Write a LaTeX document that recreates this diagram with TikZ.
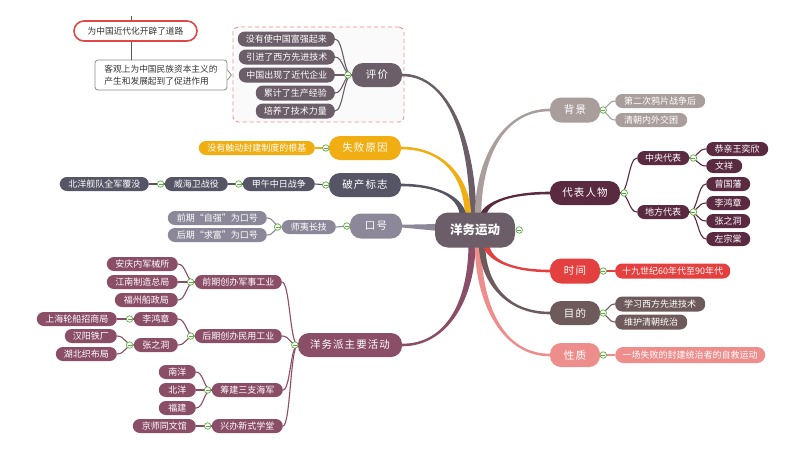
\documentclass[tikz,border=0pt]{standalone}
\usepackage{fontspec}
\setmainfont{Noto Sans CJK SC}
\usetikzlibrary{calc}
\pgfdeclarelayer{bgA}
\pgfdeclarelayer{bgB}
\pgfsetlayers{bgA,bgB,main}
\definecolor{cenC}{HTML}{6B5E68}
\definecolor{pjC}{HTML}{6B5E68}
\definecolor{sbC}{HTML}{F0AE12}
\definecolor{pcC}{HTML}{555566}
\definecolor{khC}{HTML}{8C889A}
\definecolor{hdC}{HTML}{8A4E66}
\definecolor{bjC}{HTML}{AA9E9C}
\definecolor{dbC}{HTML}{5A2A40}
\definecolor{sjC}{HTML}{E4403F}
\definecolor{mdC}{HTML}{6E5A5A}
\definecolor{xzC}{HTML}{EE8E8C}
\definecolor{colG}{HTML}{5BAA3C}
\definecolor{redB}{HTML}{E04848}
\definecolor{dashC}{HTML}{E89090}
\definecolor{txtC}{HTML}{333333}
\definecolor{calC}{HTML}{8C8C8C}
\tikzset{
  mmsub/.style={rounded corners=7pt, minimum height=14pt, inner xsep=5pt, inner ysep=0pt, text=white, font=\fontsize{9}{9.5}\selectfont, fill=#1},
  mmmain/.style={rounded corners=11pt, minimum height=24pt, inner xsep=6pt, inner ysep=0pt, text=white, font=\fontsize{10.5}{11}\selectfont\addfontfeature{LetterSpace=10}, fill=#1},
  mmcol/.style={circle, draw=colG, fill=white, line width=0.7pt, minimum size=6.5pt, inner sep=0pt,
    path picture={\draw[colG, line width=0.7pt] ([xshift=-2pt]path picture bounding box.center) -- ([xshift=2pt]path picture bounding box.center);}},
}
\newcommand\mmlink[3]{\draw[draw=#1, line width=1.1pt] let \p1=(#2), \p2=(#3) in (\p1) .. controls ({0.5*\x1+0.5*\x2},\y1) and ({0.5*\x1+0.5*\x2},\y2) .. (\p2);}
\newcommand\mmtaper[5]{\fill[#1] let \p1=(#2), \p2=(#3), \n1={sign(\x2-\x1)*sign(\y2-\y1)} in
  ({\x1-#4pt},\y1) .. controls ({\x1-#4pt},{\y1+0.55*(\y2-\y1)}) and ({\x1+0.35*(\x2-\x1)},{\y2+\n1*#5pt}) .. (\x2,{\y2+\n1*#5pt})
  -- (\x2,{\y2-\n1*#5pt}) .. controls ({\x1+0.35*(\x2-\x1)},{\y2-\n1*#5pt}) and ({\x1+#4pt},{\y1+0.55*(\y2-\y1)}) .. ({\x1+#4pt},\y1) -- cycle;}
\begin{document}
\begin{tikzpicture}[x=1pt,y=-1pt]
\begin{pgfonlayer}{bgA}
\fill[white] (0,0) rectangle (800,456);
\node[draw=dashC, dash pattern=on 4pt off 3pt, line width=0.9pt, fill=black!2, rounded corners=5pt, minimum width=171pt, minimum height=95pt, inner sep=0pt] (bd) at (318.5,74.5) {};
\end{pgfonlayer}
\useasboundingbox (0,0) rectangle (800,456);

% central
\node[mmmain=cenC, rounded corners=13pt, minimum width=80pt, minimum height=35pt, font=\fontsize{12.5}{13}\selectfont\bfseries] (c) at (475,230) {洋务运动};

% main left
\node[mmmain=pjC, minimum width=50pt] (pj) at (377,75) {评价};
\node[mmmain=sbC, minimum width=72pt] (sb) at (365,148) {失败原因};
\node[mmmain=pcC, minimum width=72pt] (pc) at (365,185) {破产标志};
\node[mmmain=khC, minimum width=52pt, minimum height=25pt] (kh) at (376,226) {口号};
\node[mmmain=hdC, minimum width=104pt] (hd) at (350,345) {洋务派主要活动};
% main right
\node[mmmain=bjC, minimum width=50pt, minimum height=25pt] (bj) at (575,110) {背景};
\node[mmmain=dbC, minimum width=70pt] (db) at (585,193) {代表人物};
\node[mmmain=sjC, minimum width=50pt, minimum height=25pt] (sj) at (575,271) {时间};
\node[mmmain=mdC, minimum width=50pt] (md) at (575,313) {目的};
\node[mmmain=xzC, minimum width=50pt] (xz) at (575,355) {性质};

% left subs
\node[mmsub=pjC, anchor=east, minimum width=97pt, minimum height=15pt] (pj1) at (335,39) {没有使中国富强起来};
\node[mmsub=pjC, anchor=east, minimum width=96pt, minimum height=15pt] (pj2) at (335,57) {引进了西方先进技术};
\node[mmsub=pjC, anchor=east, minimum width=96pt, minimum height=15pt] (pj3) at (335,75) {中国出现了近代企业};
\node[mmsub=pjC, anchor=east, minimum width=79pt, minimum height=15pt] (pj4) at (335,93) {累计了生产经验};
\node[mmsub=pjC, anchor=east, minimum width=79pt, minimum height=15pt] (pj5) at (335,111) {培养了技术力量};
\node[mmsub=sbC, anchor=east, minimum width=116pt] (sb1) at (315,148) {没有触动封建制度的根基};
\node[mmsub=pcC, anchor=east, minimum width=72pt] (pc1) at (315,184) {甲午中日战争};
\node[mmsub=pcC, anchor=east, minimum width=63pt] (pc2) at (228,184) {威海卫战役};
\node[mmsub=pcC, anchor=east, minimum width=89pt] (pc3) at (149,184) {北洋舰队全军覆没};
\node[mmsub=khC, anchor=east, minimum width=54pt] (kh1) at (336,227) {师夷长技};
\node[mmsub=khC, anchor=east, minimum width=99pt] (kh11) at (267,218) {前期“自强”为口号};
\node[mmsub=khC, anchor=east, minimum width=99pt] (kh12) at (267,235) {后期“求富”为口号};
\node[mmsub=hdC, anchor=east, minimum width=87pt] (hd1) at (282,282) {前期创办军事工业};
\node[mmsub=hdC, anchor=east, minimum width=71pt] (hd11) at (178,264) {安庆内军械所};
\node[mmsub=hdC, anchor=east, minimum width=71pt] (hd12) at (178,282) {江南制造总局};
\node[mmsub=hdC, anchor=east, minimum width=63pt] (hd13) at (178,300) {福州船政局};
\node[mmsub=hdC, anchor=east, minimum width=87pt] (hd2) at (282,336) {后期创办民用工业};
\node[mmsub=hdC, anchor=east, minimum width=44pt] (hd21) at (178,319) {李鸿章};
\node[mmsub=hdC, anchor=east, minimum width=80pt] (hd211) at (117,319) {上海轮船招商局};
\node[mmsub=hdC, anchor=east, minimum width=44pt] (hd22) at (178,345) {张之洞};
\node[mmsub=hdC, anchor=east, minimum width=52pt] (hd221) at (117,336) {汉阳铁厂};
\node[mmsub=hdC, anchor=east, minimum width=61pt] (hd222) at (117,354) {湖北织布局};
\node[mmsub=hdC, anchor=east, minimum width=71pt] (hd3) at (283,390) {筹建三支海军};
\node[mmsub=hdC, anchor=east, minimum width=37pt] (hd31) at (196,372) {南洋};
\node[mmsub=hdC, anchor=east, minimum width=37pt] (hd32) at (196,390) {北洋};
\node[mmsub=hdC, anchor=east, minimum width=37pt] (hd33) at (196,408) {福建};
\node[mmsub=hdC, anchor=east, minimum width=71pt] (hd4) at (283,426) {兴办新式学堂};
\node[mmsub=hdC, anchor=east, minimum width=63pt] (hd41) at (196,426) {京师同文馆};

% right subs
\node[mmsub=bjC, anchor=west, minimum width=90pt] (bj1) at (615,101) {第二次鸦片战争后};
\node[mmsub=bjC, anchor=west, minimum width=72pt] (bj2) at (615,120) {清朝内外交困};
\node[mmsub=dbC, anchor=west, minimum width=52pt] (db1) at (637,158) {中央代表};
\node[mmsub=dbC, anchor=west, minimum width=52pt] (db2) at (637,212) {地方代表};
\node[mmsub=dbC, anchor=west, minimum width=62pt] (db11) at (706,149) {恭亲王奕欣};
\node[mmsub=dbC, anchor=west, minimum width=36pt] (db12) at (706,166) {文祥};
\node[mmsub=dbC, anchor=west, minimum width=44pt] (db21) at (706,184) {曾国藩};
\node[mmsub=dbC, anchor=west, minimum width=44pt] (db22) at (706,203) {李鸿章};
\node[mmsub=dbC, anchor=west, minimum width=44pt] (db23) at (706,221) {张之洞};
\node[mmsub=dbC, anchor=west, minimum width=44pt] (db24) at (706,239) {左宗棠};
\node[mmsub=sjC, anchor=west, minimum width=115pt, minimum height=15pt] (sj1) at (615,271) {十九世纪60年代至90年代};
\node[mmsub=mdC, anchor=west, minimum width=90pt, minimum height=15pt] (md1) at (615,304) {学习西方先进技术};
\node[mmsub=mdC, anchor=west, minimum width=72pt, minimum height=15pt] (md2) at (615,322) {维护清朝统治};
\node[mmsub=xzC, anchor=west, minimum width=150pt, minimum height=16pt, rounded corners=8pt] (xz1) at (615,355) {一场失败的封建统治者的自救运动};

% callouts top-left
\node[draw=redB, line width=1.6pt, fill=white, rounded corners=10pt, minimum width=123pt, minimum height=20pt, inner sep=0pt, text=txtC, font=\fontsize{8.7}{9}\selectfont] (rb) at (135.5,31) {为中国近代化开辟了道路};
\node[draw=calC, line width=0.8pt, fill=white, rounded corners=3pt, minimum width=132pt, minimum height=30pt, inner xsep=9pt, inner ysep=0pt, align=left, text=txtC, font=\fontsize{8.7}{11.5}\selectfont] (cl) at (161,75) {客观上为中国民族资本主义的\\产生和发展起到了促进作用};
\fill[white] ($(cl.east)+(-0.6,-5)$) -- ($(cl.east)+(3.6,0)$) -- ($(cl.east)+(-0.6,5)$) -- cycle;
\draw[calC, line width=0.8pt, line join=round] ($(cl.east)+(0,-5)$) -- ($(cl.east)+(4,0)$) -- ($(cl.east)+(0,5)$);
\draw[black!65, line width=1.3pt] ([xshift=-4pt]rb.north) -- ++(0,-4);
\draw[black!65, line width=1.3pt] ([xshift=-4pt]rb.south) -- ([xshift=-4pt]rb.south |- cl.north);

\begin{pgfonlayer}{bgB}
% main branches
\mmtaper{pjC}{[xshift=-2pt,yshift=-5pt]c.north}{pj.east}{3.2}{1.3}
\mmtaper{sbC}{[xshift=-7pt,yshift=-5pt]c.north}{sb.east}{3.2}{1.3}
\mmtaper{pcC}{[xshift=-12pt,yshift=-5pt]c.north}{pc.east}{3.2}{1.3}
\mmtaper{bjC}{[xshift=3pt,yshift=-5pt]c.north}{bj.west}{3.2}{1.3}
\mmtaper{dbC}{[xshift=8pt,yshift=-5pt]c.north}{db.west}{3.2}{1.3}
\mmtaper{hdC}{[xshift=-3pt,yshift=5pt]c.south}{hd.east}{3.5}{1.3}
\mmtaper{xzC}{[xshift=3pt,yshift=5pt]c.south}{xz.west}{3.2}{1.3}
\mmtaper{mdC}{[xshift=7pt,yshift=5pt]c.south}{md.west}{3.2}{1.3}
\mmtaper{sjC}{[xshift=11pt,yshift=5pt]c.south}{sj.west}{3.2}{1.3}
\fill[khC] ($(c.west)+(4,-6)$) -- ($(kh.east)+(-3,-1.2)$) -- ($(kh.east)+(-3,1.2)$) -- ($(c.west)+(4,1)$) -- cycle;
% sub links
\mmlink{pjC}{pj.west}{pj1.east}
\mmlink{pjC}{pj.west}{pj2.east}
\mmlink{pjC}{pj.west}{pj3.east}
\mmlink{pjC}{pj.west}{pj4.east}
\mmlink{pjC}{pj.west}{pj5.east}
\mmlink{sbC}{sb.west}{sb1.east}
\mmlink{pcC}{pc.west}{pc1.east}
\mmlink{pcC}{pc1.west}{pc2.east}
\mmlink{pcC}{pc2.west}{pc3.east}
\mmlink{khC}{kh.west}{kh1.east}
\mmlink{khC}{kh1.west}{kh11.east}
\mmlink{khC}{kh1.west}{kh12.east}
\mmlink{hdC}{hd.west}{hd1.east}
\mmlink{hdC}{hd.west}{hd2.east}
\mmlink{hdC}{hd.west}{hd3.east}
\mmlink{hdC}{hd.west}{hd4.east}
\mmlink{hdC}{hd1.west}{hd11.east}
\mmlink{hdC}{hd1.west}{hd12.east}
\mmlink{hdC}{hd1.west}{hd13.east}
\mmlink{hdC}{hd2.west}{hd21.east}
\mmlink{hdC}{hd2.west}{hd22.east}
\mmlink{hdC}{hd21.west}{hd211.east}
\mmlink{hdC}{hd22.west}{hd221.east}
\mmlink{hdC}{hd22.west}{hd222.east}
\mmlink{hdC}{hd3.west}{hd31.east}
\mmlink{hdC}{hd3.west}{hd32.east}
\mmlink{hdC}{hd3.west}{hd33.east}
\mmlink{hdC}{hd4.west}{hd41.east}
\mmlink{bjC}{bj.east}{bj1.west}
\mmlink{bjC}{bj.east}{bj2.west}
\mmlink{dbC}{db.east}{db1.west}
\mmlink{dbC}{db.east}{db2.west}
\mmlink{dbC}{db1.east}{db11.west}
\mmlink{dbC}{db1.east}{db12.west}
\mmlink{dbC}{db2.east}{db21.west}
\mmlink{dbC}{db2.east}{db22.west}
\mmlink{dbC}{db2.east}{db23.west}
\mmlink{dbC}{db2.east}{db24.west}
\mmlink{sjC}{sj.east}{sj1.west}
\mmlink{mdC}{md.east}{md1.west}
\mmlink{mdC}{md.east}{md2.west}
\mmlink{xzC}{xz.east}{xz1.west}
\end{pgfonlayer}

% collapse markers
\node[mmcol] (x-c) at ([xshift=4pt]c.east) {};
\node[mmcol] (x-pj) at ([xshift=-4pt]pj.west) {};
\node[mmcol] (x-sb) at ([xshift=-3pt]sb.west) {};
\node[mmcol] (x-pc) at ([xshift=-3pt]pc.west) {};
\node[mmcol] (x-pc1) at ([xshift=-4pt]pc1.west) {};
\node[mmcol] (x-pc2) at ([xshift=-4pt]pc2.west) {};
\node[mmcol] (x-kh) at ([xshift=-3pt]kh.west) {};
\node[mmcol] (x-kh1) at ([xshift=-4pt]kh1.west) {};
\node[mmcol] (x-hd) at ([xshift=-3pt]hd.west) {};
\node[mmcol] (x-hd1) at ([xshift=-4pt]hd1.west) {};
\node[mmcol] (x-hd2) at ([xshift=-4pt]hd2.west) {};
\node[mmcol] (x-hd21) at ([xshift=-4pt]hd21.west) {};
\node[mmcol] (x-hd22) at ([xshift=-4pt]hd22.west) {};
\node[mmcol] (x-hd3) at ([xshift=-4pt]hd3.west) {};
\node[mmcol] (x-hd4) at ([xshift=-4pt]hd4.west) {};
\node[mmcol] (x-bj) at ([xshift=3pt]bj.east) {};
\node[mmcol] (x-db) at ([xshift=4pt]db.east) {};
\node[mmcol] (x-db1) at ([xshift=4pt]db1.east) {};
\node[mmcol] (x-db2) at ([xshift=4pt]db2.east) {};
\node[mmcol] (x-sj) at ([xshift=3pt]sj.east) {};
\node[mmcol] (x-md) at ([xshift=3pt]md.east) {};
\node[mmcol] (x-xz) at ([xshift=3pt]xz.east) {};
\end{tikzpicture}
\end{document}
